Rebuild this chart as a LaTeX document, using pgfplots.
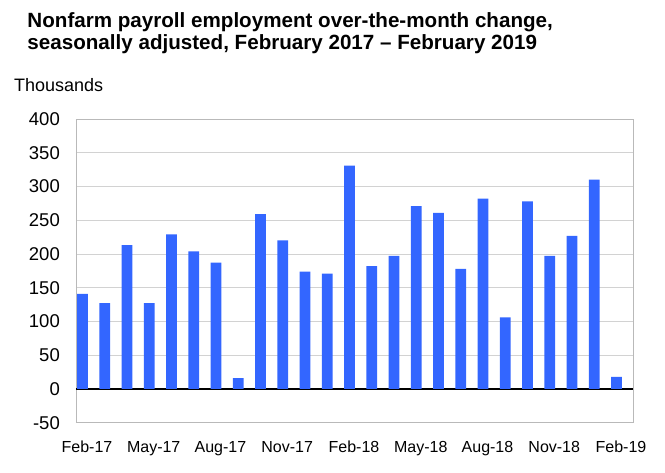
\documentclass[border=0pt]{standalone}
\usepackage{pgfplots}
\pgfplotsset{compat=1.18}
\usepackage{fontspec}
\setmainfont{Liberation Sans}
\definecolor{barblue}{HTML}{3366FF}
\begin{document}
\begin{tikzpicture}
\useasboundingbox (-76pt,-50.3pt) rectangle (589pt,422.7pt);
\begin{axis}[
  at={(0,0)}, anchor=south west,
  scale only axis, width=557.3pt, height=303.7pt,
  xmin=-0.29, xmax=24.755, ymin=-50, ymax=400,
  ytick={-50,0,...,400},
  xtick={0,3,...,24},
  xticklabels={Feb-17,May-17,Aug-17,Nov-17,Feb-18,May-18,Aug-18,Nov-18,Feb-19},
  major tick length=0pt,
  ymajorgrids, grid style={gray!35, line width=0.8pt},
  axis line style={gray!55, line width=0.8pt},
  /pgf/number format/assume math mode=true,
  yticklabel style={font=\fontsize{18.5}{20}\selectfont, anchor=east, inner sep=0pt, xshift=-16pt},
  xticklabel style={font=\fontsize{16}{18}\selectfont, anchor=north, inner sep=0pt, yshift=-18.3pt, xshift=4.5pt},
  extra y ticks={0}, extra y tick labels={},
  extra y tick style={grid style={black, line width=1.6pt}},
  ybar, bar width=0.49,
]
\addplot[fill=barblue, draw=none] coordinates {
(0,141) (1,127) (2,213) (3,127) (4,229) (5,204) (6,187) (7,16) (8,259)
(9,220) (10,174) (11,171) (12,331) (13,182) (14,197) (15,271) (16,261)
(17,178) (18,282) (19,106) (20,278) (21,197) (22,227) (23,310) (24,18)
};
\end{axis}
\node[anchor=base west, inner sep=0pt, font=\bfseries\fontsize{20.6}{24}\selectfont] at (-48.7pt,395.4pt) {Nonfarm payroll employment over-the-month change,};
\node[anchor=base west, inner sep=0pt, font=\bfseries\fontsize{20.6}{24}\selectfont] at (-48.7pt,372.7pt) {seasonally adjusted, February 2017 – February 2019};
\node[anchor=base west, inner sep=0pt, font=\fontsize{18}{20}\selectfont] at (-62pt,330.7pt) {Thousands};
\end{tikzpicture}
\end{document}
